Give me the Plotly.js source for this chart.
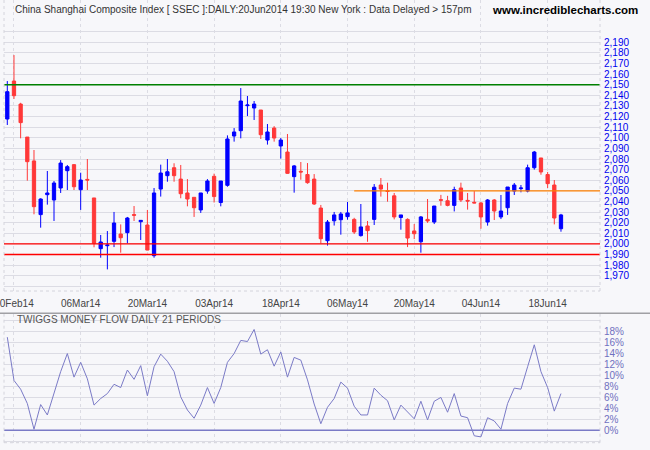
<!DOCTYPE html>
<html>
<head>
<meta charset="utf-8">
<script src="https://cdn.plot.ly/plotly-3.0.1.min.js"></script>
<style>
  html, body { margin: 0; padding: 0; background: #f7f7fa; }
  #chart { width: 650px; height: 450px; }
</style>
</head>
<body>
<div id="chart"></div>
<script>
// ---- data ----
const dates = [
  '2014-02-19','2014-02-20','2014-02-21','2014-02-24','2014-02-25','2014-02-26','2014-02-27','2014-02-28',
  '2014-03-03','2014-03-04','2014-03-05','2014-03-06','2014-03-07','2014-03-10','2014-03-11','2014-03-12',
  '2014-03-13','2014-03-14','2014-03-17','2014-03-18','2014-03-19','2014-03-20','2014-03-21','2014-03-24',
  '2014-03-25','2014-03-26','2014-03-27','2014-03-28','2014-03-31',
  '2014-04-01','2014-04-02','2014-04-03','2014-04-04','2014-04-08','2014-04-09','2014-04-10','2014-04-11',
  '2014-04-14','2014-04-15','2014-04-16','2014-04-17','2014-04-18','2014-04-21','2014-04-22','2014-04-23',
  '2014-04-24','2014-04-25','2014-04-28','2014-04-29','2014-04-30',
  '2014-05-05','2014-05-06','2014-05-07','2014-05-08','2014-05-09','2014-05-12','2014-05-13','2014-05-14',
  '2014-05-15','2014-05-16','2014-05-19','2014-05-20','2014-05-21','2014-05-22','2014-05-23','2014-05-26',
  '2014-05-27','2014-05-28','2014-05-29','2014-05-30',
  '2014-06-03','2014-06-04','2014-06-05','2014-06-06','2014-06-09','2014-06-10','2014-06-11','2014-06-12',
  '2014-06-13','2014-06-16','2014-06-17','2014-06-18','2014-06-19','2014-06-20'
];
const openP = [
  2117.7,2153.5,2131.8,2100.7,2078.2,2027.6,2046.4,2041.4,2052.7,2069.0,
  2074.7,2051.1,2060.8,2043.3,1995.5,1998.3,2002.4,2009.3,2010.6,2027.6,
  2020.9,2017.8,1988.9,2051.7,2064.3,2071.8,2061.1,2048.0,2043.9,2032.0,
  2049.8,2063.7,2039.0,2055.2,2101.7,2106.7,2130.3,2128.1,2126.2,2097.9,
  2109.2,2092.3,2086.6,2063.4,2068.4,2065.4,2061.1,2033.8,2003.0,2021.8,
  2022.8,2025.7,2023.1,2007.8,2016.9,2023.1,2055.5,2050.1,2045.3,2024.9,
  2023.1,2012.2,2002.0,2023.1,2020.6,2041.7,2040.7,2036.3,2052.7,2041.0,
  2039.2,2038.6,2020.6,2041.4,2025.4,2034.1,2049.8,2052.1,2049.8,2071.8,
  2081.0,2065.4,2055.5,2014.3
];
const highP = [
  2153.5,2178.0,2133.0,2100.7,2088.5,2043.0,2068.7,2059.3,2079.0,2074.4,
  2075.3,2067.1,2080.0,2043.3,2008.4,2012.1,2030.1,2018.4,2025.4,2035.7,
  2022.2,2032.0,2052.7,2074.7,2080.0,2076.0,2074.4,2061.1,2043.9,2048.0,
  2061.1,2066.2,2059.3,2102.3,2109.2,2146.9,2139.4,2134.7,2126.2,2113.0,
  2111.0,2099.8,2103.6,2074.4,2077.2,2076.2,2065.8,2036.7,2022.5,2030.1,
  2030.1,2039.5,2024.6,2037.6,2021.6,2056.4,2062.1,2057.7,2048.0,2027.3,
  2024.1,2018.7,2026.3,2042.3,2035.7,2046.2,2045.3,2053.9,2057.7,2048.0,
  2049.8,2039.5,2042.3,2042.3,2046.1,2053.6,2057.4,2055.5,2074.7,2087.6,
  2081.0,2067.8,2060.2,2028.3
];
const lowP = [
  2112.1,2136.6,2099.5,2059.6,2027.9,2015.3,2037.0,2021.6,2048.0,2050.8,
  2050.8,2032.0,2050.8,1996.8,1987.0,1976.0,1997.0,1991.7,2000.5,2021.6,
  2003.7,1994.0,1987.0,2044.6,2058.6,2058.6,2043.0,2035.4,2025.4,2029.2,
  2047.3,2039.0,2035.4,2053.9,2096.4,2099.5,2120.5,2116.8,2098.9,2093.6,
  2096.4,2080.4,2066.0,2048.3,2060.5,2056.7,2036.7,2000.5,1998.4,2017.3,
  2008.7,2022.8,2009.3,2006.9,2002.0,2017.8,2044.6,2039.8,2023.1,2013.4,
  1997.0,2004.5,1991.7,2019.8,2018.7,2036.0,2035.4,2030.6,2039.5,2032.3,
  2038.3,2014.3,2017.2,2022.5,2023.4,2027.3,2046.1,2048.6,2048.6,2070.0,
  2065.2,2052.7,2018.4,2011.5
];
const closeP = [
  2143.5,2139.7,2114.3,2077.5,2035.1,2042.3,2048.0,2057.4,2076.2,2072.8,
  2053.9,2060.2,2060.2,2000.5,2001.8,1998.9,2019.7,2005.8,2024.4,2027.0,
  2022.2,1994.2,2048.0,2066.8,2068.0,2064.3,2047.3,2042.3,2034.1,2048.0,
  2059.3,2044.6,2059.3,2098.9,2105.5,2134.7,2130.9,2131.8,2102.9,2105.5,
  2099.8,2097.9,2066.5,2073.5,2067.8,2057.7,2037.6,2004.9,2020.6,2027.3,
  2028.2,2029.2,2011.2,2016.0,2012.5,2053.4,2051.7,2049.5,2025.4,2027.3,
  2005.5,2009.6,2025.4,2021.6,2035.7,2041.2,2036.3,2051.1,2041.4,2040.4,
  2038.6,2025.4,2041.4,2031.0,2031.0,2053.6,2055.5,2052.7,2071.8,2086.6,
  2067.8,2056.8,2024.4,2027.3
];
// Twiggs Money Flow (21 periods), percent
const moneyFlow = [
  17.0,9.1,7.5,4.9,0.2,4.7,2.8,6.9,10.7,14.0,
  9.7,12.4,9.4,4.6,5.8,6.7,8.4,7.8,11.0,9.3,
  11.8,6.3,11.6,13.9,12.6,10.7,6.1,3.7,2.2,4.6,
  7.8,4.9,7.8,12.4,14.0,16.4,16.2,18.4,13.9,14.7,
  11.7,14.3,9.7,13.3,12.8,9.2,4.8,1.2,4.2,5.8,
  8.8,7.7,4.4,2.8,2.8,7.7,6.4,5.4,1.9,4.6,
  3.4,2.1,5.3,1.9,5.3,6.0,3.3,6.7,2.6,2.3,
  -1.0,-1.2,2.3,1.7,0.2,4.9,7.7,7.5,11.6,15.6,
  10.7,7.8,3.5,6.7
];
// x tick labels
const xTickVals = ['2014-02-20','2014-03-06','2014-03-20','2014-04-03','2014-04-18','2014-05-06','2014-05-20','2014-06-04','2014-06-18'];
const xTickText = ['20Feb14','06Mar14','20Mar14','03Apr14','18Apr14','06May14','20May14','04Jun14','18Jun14'];
// price tick labels
const priceTickVals = [1960,1970,1980,1990,2000,2010,2020,2030,2040,2050,2060,2070,2080,2090,2100,2110,2120,2130,2140,2150,2160,2170,2180,2190,2200];
const priceTickText = ['','1,970','1,980','1,990','2,000','2,010','2,020','2,030','2,040','2,050','2,060','2,070','2,080','2,090','2,100','2,110','2,120','2,130','2,140','2,150','2,160','2,170','2,180','2,190',''];
// money flow tick labels
const mfTickVals = [-2,0,2,4,6,8,10,12,14,16,18,20];
const mfTickText = ['','0%','2%','4%','6%','8%','10%','12%','14%','16%','18%',''];
// horizontal levels drawn on the price chart
const fullLevels = [
  {value: 2150, color: '#008000'},
  {value: 2000, color: '#ff0000'},
  {value: 1990, color: '#ff0000'}
];
const partialLevel = {value: 2050, color: '#ff8000', from: '2014-05-07'};

// ---- chart ----
const xRange = [-0.495, 88.85];
const gridC = '#dcdce4';
const font = 'Liberation Sans, Arial, sans-serif';

const traces = [
  {
    type: 'candlestick',
    x: dates, open: openP, high: highP, low: lowP, close: closeP,
    xaxis: 'x', yaxis: 'y',
    increasing: {line: {color: '#0000ff', width: 1}, fillcolor: '#0000ff'},
    decreasing: {line: {color: '#ff3838', width: 1}, fillcolor: '#ff3838'},
    whiskerwidth: 0,
    showlegend: false, hoverinfo: 'skip'
  },
  {
    type: 'scatter', mode: 'lines',
    x: dates, y: moneyFlow,
    xaxis: 'x2', yaxis: 'y2',
    line: {color: '#7a7ac6', width: 1},
    showlegend: false, hoverinfo: 'skip'
  }
];

const shapes = [];
fullLevels.forEach(l => shapes.push({
  type: 'line', xref: 'paper', yref: 'y', x0: 0, x1: 1, y0: l.value, y1: l.value,
  line: {color: l.color, width: 1.4}
}));
shapes.push({
  type: 'line', xref: 'x', yref: 'y',
  x0: dates.indexOf(partialLevel.from), x1: xRange[1],
  y0: partialLevel.value, y1: partialLevel.value,
  line: {color: partialLevel.color, width: 1.4}
});
// money flow zero line
shapes.push({type: 'line', xref: 'paper', yref: 'y2', x0: 0, x1: 1, y0: 0, y1: 0,
  line: {color: '#7a7ac6', width: 1.4}});
// panel frames (dotted)
const topBottom = 1 - 291/450;
const botBottom = 1 - 442.7/450;
const botTop = 1 - 314/450;
[[0,0,topBottom,1],[1,1,topBottom,1],[0,1,topBottom,topBottom],
 [0,0,botBottom,botTop],[1,1,botBottom,botTop],[0,1,botBottom,botBottom]].forEach(s => shapes.push({
  type: 'line', xref: 'paper', yref: 'paper', x0: s[0], x1: s[1], y0: s[2], y1: s[3],
  line: {color: '#d4d4dc', width: 1, dash: 'dot'}
}));
// separator between panels
shapes.push({type: 'line', xref: 'paper', yref: 'paper', x0: -0.01, x1: 1.09,
  y0: 1 - 313.3/450, y1: 1 - 313.3/450, line: {color: '#a0a0a4', width: 1.5}});

const layout = {
  width: 650, height: 450,
  margin: {l: 4, r: 50, t: 0, b: 0},
  paper_bgcolor: '#f7f7fa', plot_bgcolor: '#f7f7fa',
  font: {family: font, size: 10, color: '#444'},
  showlegend: false,
  xaxis: {
    type: 'category', range: xRange, anchor: 'y',
    tickvals: xTickVals, ticktext: xTickText,
    showgrid: true, gridcolor: gridC, griddash: 'dot', gridwidth: 1,
    zeroline: false, showline: false, ticks: '',
    tickfont: {family: font, size: 10, color: '#444'},
    ticklabelstandoff: 5,
    rangeslider: {visible: false}, fixedrange: true
  },
  yaxis: {
    domain: [topBottom, 1], range: [1955.6, 2229.9], side: 'right', anchor: 'x',
    tickvals: priceTickVals, ticktext: priceTickText,
    showgrid: true, gridcolor: gridC, gridwidth: 1,
    zeroline: false, showline: false, ticks: '',
    tickfont: {family: font, size: 10, color: '#0000ee'},
    ticklabelstandoff: 3, fixedrange: true
  },
  xaxis2: {
    type: 'category', range: xRange, anchor: 'y2', matches: 'x',
    tickvals: xTickVals, ticktext: xTickText, showticklabels: false,
    showgrid: true, gridcolor: gridC, griddash: 'dot', gridwidth: 1,
    zeroline: false, showline: false, ticks: '', fixedrange: true
  },
  yaxis2: {
    domain: [botBottom, botTop], range: [-2.26, 21.22], side: 'right', anchor: 'x2',
    tickvals: mfTickVals, ticktext: mfTickText,
    showgrid: true, gridcolor: gridC, gridwidth: 1,
    zeroline: false, showline: false, ticks: '',
    tickfont: {family: font, size: 10, color: '#7070c0'},
    ticklabelstandoff: 3, fixedrange: true
  },
  shapes: shapes,
  annotations: [
    {xref: 'paper', yref: 'paper', x: (13-4)/596, y: 1 - 9/450, xanchor: 'left', yanchor: 'middle',
     text: 'China Shanghai Composite Index [ SSEC ]:DAILY:20Jun2014 19:30 New York : Data Delayed > 157pm',
     showarrow: false, font: {family: font, size: 10, color: '#333'}},
    {xref: 'paper', yref: 'paper', x: (640-4)/596, y: 1 - 10/450, xanchor: 'right', yanchor: 'middle',
     text: '<b>www.incrediblecharts.com</b>',
     showarrow: false, font: {family: font, size: 11.5, color: '#000'}},
    {xref: 'paper', yref: 'paper', x: (15-4)/596, y: 1 - 319.5/450, xanchor: 'left', yanchor: 'middle',
     text: 'TWIGGS MONEY FLOW DAILY 21 PERIODS',
     showarrow: false, font: {family: font, size: 10, color: '#555'}}
  ]
};

Plotly.newPlot('chart', traces, layout, {staticPlot: true, displayModeBar: false});
</script>
</body>
</html>
